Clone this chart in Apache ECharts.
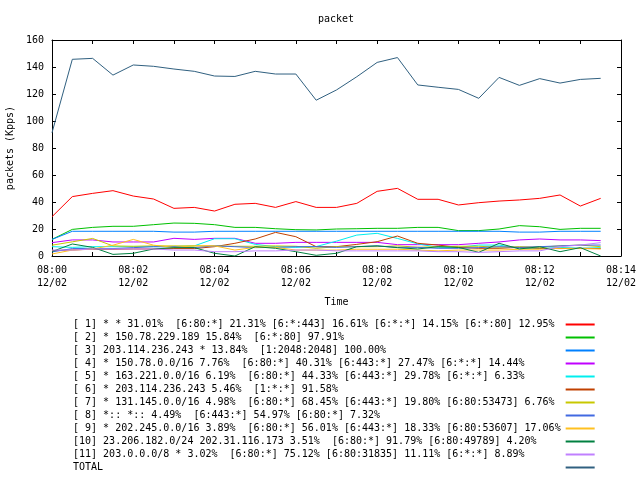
<!DOCTYPE html>
<html><head><meta charset="utf-8">
<script src="https://cdn.jsdelivr.net/npm/echarts@6/dist/echarts.min.js"></script>
<style>html,body{margin:0;padding:0;background:#fff}#c{width:640px;height:480px}</style>
</head><body><div id="c"></div>
<script>
const times = ['08:00:00','08:00:30','08:01:00','08:01:30','08:02:00','08:02:30','08:03:00','08:03:30',
  '08:04:00','08:04:30','08:05:00','08:05:30','08:06:00','08:06:30','08:07:00','08:07:30',
  '08:08:00','08:08:30','08:09:00','08:09:30','08:10:00','08:10:30','08:11:00','08:11:30',
  '08:12:00','08:12:30','08:13:00','08:13:30'];

const s1 = [29.1,44,46.4,48.4,44.4,42.2,35.3,36,33.3,38.3,39,36,40.3,36,36,39,47.9,50.1,42,42,37.8,39.5,40.7,41.5,42.7,45.2,37,42.7];
const s2 = [12.3,19.7,21.2,22,22,23.2,24.4,24.2,23.2,21.2,21.2,20.2,19.5,19.3,20,20.2,20.5,20.5,21.2,21.2,18.8,18.8,20,22.5,21.7,19.7,20.5,20.5];
const s3 = [12.3,18.3,18.3,18.3,18.3,18.3,17.7,17.7,18.3,18.3,18.3,18.3,18.3,18.3,18.3,18.3,18.3,18.3,18.3,18.3,18.3,18.3,18.3,17.7,17.7,18.3,18.3,18.3];
const s4 = [9.9,11.9,11.9,10.4,10.4,10.4,13.1,12.3,13.1,13.1,9.4,9.4,10.1,10.1,10.1,10.1,10.1,8.4,8.4,8.4,8.4,9.4,10.4,11.9,12.6,11.9,11.9,11.4];
const s5 = [6.9,6.4,6.9,6.9,6.9,6.9,6.9,7.5,12.8,12.8,8.6,6.9,6.4,7,11,15.5,16.8,13,9,6.4,6.4,8.1,8.1,5.7,5.5,6.4,5.7,6.2];
const s6 = [4,4.5,5,5,5.2,5.2,5.5,5.5,6.9,9.4,12.6,17.5,14.3,6.9,6.9,8.6,10.6,14.8,9.4,8.1,6.4,5.7,5.7,6.4,5.7,5.5,5.7,5.5];
const s7 = [8,10.5,13,7.5,7.2,7.5,7.5,7.5,7.5,7.2,7.2,7.5,7.2,5.7,6.9,6.9,6.9,7.5,6.5,6.9,7.2,7.2,6.5,6.9,6.5,7.5,8.1,6.9];
const s8 = [3,5.5,5.5,5.5,6.2,6.9,6.9,6.2,7.5,6.9,6.2,6.4,6.9,6.9,6.4,6.9,7.5,6.4,6.4,5.7,5.7,6.2,6.9,6.4,6.9,7.5,8.1,8.1];
const s9 = [1.5,4.4,5.2,8,12.3,8,6.4,7.5,7.5,4.4,6.4,6.4,4.4,4.4,4.4,5,5,5,4.4,3.8,4.4,4.4,4.4,5,5,5.7,5.5,5.2];
const s10 = [3.3,8.9,6.4,1.2,2,5.2,6.2,6.2,2,0,6.9,5.7,3.2,0.5,2,6.9,7.5,6.2,5.2,6.9,6.4,2.7,9.4,5.2,6.9,3.2,6.2,0];
const s11 = [4.4,4.4,5.2,5.2,5.2,5.2,4.4,4.4,3.2,3.2,3.8,3.8,4.4,4.4,3.8,3.8,3.8,3.8,3.8,3.2,3.2,2.7,3.2,3.8,3.8,6.9,8.1,9.9];
const total = [91.3,145.7,146.4,134,141.5,140.5,138.5,136.8,133.3,133,136.8,134.8,134.8,115.4,123,132.8,143.4,147,126.7,125,123.4,116.8,132.3,126.4,131.4,128.1,130.8,131.6];

const seriesNames = [
  '[ 1] * * 31.01%  [6:80:*] 21.31% [6:*:443] 16.61% [6:*:*] 14.15% [6:*:80] 12.95%',
  '[ 2] * 150.78.229.189 15.84%  [6:*:80] 97.91%',
  '[ 3] 203.114.236.243 * 13.84%  [1:2048:2048] 100.00%',
  '[ 4] * 150.78.0.0/16 7.76%  [6:80:*] 40.31% [6:443:*] 27.47% [6:*:*] 14.44%',
  '[ 5] * 163.221.0.0/16 6.19%  [6:80:*] 44.33% [6:443:*] 29.78% [6:*:*] 6.33%',
  '[ 6] * 203.114.236.243 5.46%  [1:*:*] 91.58%',
  '[ 7] * 131.145.0.0/16 4.98%  [6:80:*] 68.45% [6:443:*] 19.80% [6:80:53473] 6.76%',
  '[ 8] *:: *:: 4.49%  [6:443:*] 54.97% [6:80:*] 7.32%',
  '[ 9] * 202.245.0.0/16 3.89%  [6:80:*] 56.01% [6:443:*] 18.33% [6:80:53607] 17.06%',
  '[10] 23.206.182.0/24 202.31.116.173 3.51%  [6:80:*] 91.79% [6:80:49789] 4.20%',
  '[11] 203.0.0.0/8 * 3.02%  [6:80:*] 75.12% [6:80:31835] 11.11% [6:*:*] 8.89%',
  'TOTAL'
];
const seriesValues = [s1,s2,s3,s4,s5,s6,s7,s8,s9,s10,s11,total];
const seriesColors = ['#ff0000','#00c000','#0080ff','#c000ff','#00eeee','#c04000','#c8c800','#4169e1','#ffc020','#008040','#c080ff','#306080'];

const xTickLabels = ['08:00','08:02','08:04','08:06','08:08','08:10','08:12','08:14'];
const xDateLabel = '12/02';
const yTicks = [0,20,40,60,80,100,120,140,160];

const FONT = 'DejaVu Sans Mono';
const toMin = t => { const p = t.split(':').map(Number); return (p[0]-8)*60 + p[1] + p[2]/60; };
const xs = times.map(toMin);
const xMax = (xTickLabels.length-1)*2;

const chart = echarts.init(document.getElementById('c'), null, {renderer:'canvas'});
const axisLine = {show:true, onZero:false, lineStyle:{color:'#000', width:1}};
const tick = {show:true, inside:true, length:4, lineStyle:{color:'#000'}};
const xLabelFmt = v => {
  const i = v/2;
  return Number.isInteger(i) && xTickLabels[i] ? xTickLabels[i] + '\n' + xDateLabel : '';
};
chart.setOption({
  animation:false,
  backgroundColor:'#fff',
  title:{text:'packet', left:318, top:14, padding:0, textStyle:{fontFamily:FONT, fontSize:10, fontWeight:'normal', color:'#000'}},
  grid:{left:52, right:19, top:40, bottom:224, outerBoundsMode:'none', containLabel:false},
  legend:{
    orient:'vertical', left:73, top:318, height:200, padding:0, itemGap:0, align:'right', icon:'rect',
    itemWidth:29, itemHeight:2, selectedMode:false,
    itemStyle:{borderWidth:0},
    lineStyle:{width:0},
    textStyle:{fontFamily:FONT, fontSize:10, color:'#000', lineHeight:13, height:13},
    formatter: n => n.padEnd(81, ' '),
    data: seriesNames
  },
  xAxis:[
    {type:'value', min:0, max:xMax, interval:1, position:'bottom',
     name:'Time', nameLocation:'middle', nameGap:41,
     nameTextStyle:{fontFamily:FONT, fontSize:10, color:'#000'},
     axisLine, axisTick:tick,
     axisLabel:{formatter:xLabelFmt, margin:8, lineHeight:13, fontFamily:FONT, fontSize:10, color:'#000', showMinLabel:true, showMaxLabel:true},
     splitLine:{show:false}},
    {type:'value', min:0, max:xMax, interval:1, position:'top',
     axisLine, axisTick:tick,
     axisLabel:{show:false}, splitLine:{show:false}}
  ],
  yAxis:[
    {type:'value', min:yTicks[0], max:yTicks[yTicks.length-1], interval:yTicks[1]-yTicks[0], position:'left',
     name:'packets (Kpps)', nameLocation:'middle', nameGap:35,
     nameTextStyle:{fontFamily:FONT, fontSize:10, color:'#000'},
     axisLine, axisTick:tick,
     axisLabel:{margin:8, fontFamily:FONT, fontSize:10, color:'#000'},
     splitLine:{show:false}},
    {type:'value', min:yTicks[0], max:yTicks[yTicks.length-1], interval:yTicks[1]-yTicks[0], position:'right',
     axisLine, axisTick:tick,
     axisLabel:{show:false}, splitLine:{show:false}}
  ],
  series: seriesNames.map((n,i) => ({
    name:n, type:'line', xAxisIndex:0, yAxisIndex:0,
    data: xs.map((x,j) => [x, seriesValues[i][j]]),
    showSymbol:false, symbol:'none',
    color: seriesColors[i],
    lineStyle:{width:1, color:seriesColors[i]},
    itemStyle:{color:seriesColors[i]},
    emphasis:{disabled:true}
  }))
});
</script></body></html>
